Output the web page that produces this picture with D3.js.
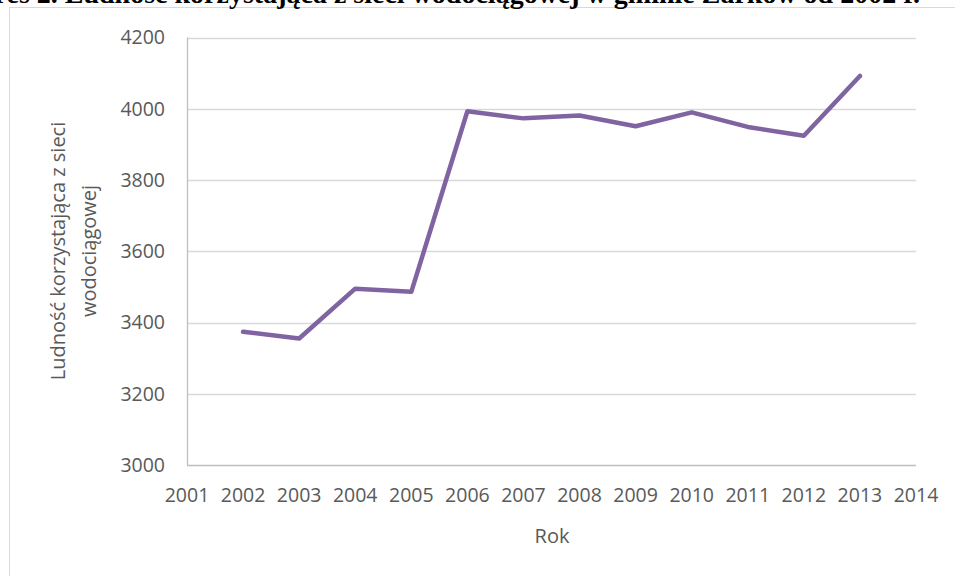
<!DOCTYPE html>
<html>
<head>
<meta charset="utf-8">
<script src="https://cdn.jsdelivr.net/npm/d3@7"></script>
<style>
  body { margin: 0; background: #fff; }
  text { font-family: "Open Sans", sans-serif; fill: #595959; }
</style>
</head>
<body>
<script>
// data
const years = [2002, 2003, 2004, 2005, 2006, 2007, 2008, 2009, 2010, 2011, 2012, 2013];
const population = [3374, 3355, 3495, 3486, 3993, 3973, 3981, 3951, 3990, 3949, 3924, 4092];
const yTicks = [3000, 3200, 3400, 3600, 3800, 4000, 4200];
const xTicks = [2001, 2002, 2003, 2004, 2005, 2006, 2007, 2008, 2009, 2010, 2011, 2012, 2013, 2014];

const width = 955;
const height = 576;
const margin = { top: 37.5, right: 39, bottom: 111, left: 187 };

const svg = d3.select("body").append("svg")
  .attr("width", width)
  .attr("height", height);

// chart frame (runs off the right and bottom)
svg.append("rect")
  .attr("x", 9.5).attr("y", 7.5)
  .attr("width", 960).attr("height", 600)
  .attr("fill", "none")
  .attr("stroke", "#d9d9d9");

// caption above the chart, clipped by the top edge as in the reference
svg.append("text")
  .attr("x", -62).attr("y", 3)
  .style("font-family", "'Liberation Serif', serif")
  .style("font-weight", "bold")
  .style("font-size", "28px")
  .style("fill", "#000")
  .text("Wykres 2. Ludność korzystająca z sieci wodociągowej w gminie Żarków od 2002 r.");

const x = d3.scaleLinear().domain([2001, 2014]).range([margin.left, width - margin.right]);
const y = d3.scaleLinear().domain([3000, 4200]).range([height - margin.bottom, margin.top]);

// gridlines
svg.append("g")
  .selectAll("line")
  .data(yTicks)
  .join("line")
  .attr("x1", x(2001)).attr("x2", x(2014))
  .attr("y1", d => Math.round(y(d)) + 0.5)
  .attr("y2", d => Math.round(y(d)) + 0.5)
  .attr("stroke", d => d === 3000 ? "#bfbfbf" : "#d9d9d9")
  .attr("stroke-width", 1.3);

// left axis line
svg.append("line")
  .attr("x1", x(2001) + 0.5).attr("x2", x(2001) + 0.5)
  .attr("y1", y(4200)).attr("y2", y(3000))
  .attr("stroke", "#bfbfbf")
  .attr("stroke-width", 1.3);

// y tick labels
svg.append("g")
  .selectAll("text")
  .data(yTicks)
  .join("text")
  .attr("x", 165)
  .attr("y", d => y(d))
  .attr("dy", "0.35em")
  .attr("text-anchor", "end")
  .style("font-size", "19.5px")
  .text(d => d);

// x tick labels
svg.append("g")
  .selectAll("text")
  .data(xTicks)
  .join("text")
  .attr("x", d => x(d))
  .attr("y", 502)
  .attr("text-anchor", "middle")
  .style("font-size", "19.5px")
  .text(d => d);

// axis titles
svg.append("text")
  .attr("x", 552).attr("y", 543)
  .attr("text-anchor", "middle")
  .style("font-size", "20px")
  .text("Rok");

const yTitle = svg.append("text")
  .attr("transform", "translate(0,251) rotate(-90)")
  .attr("text-anchor", "middle")
  .style("font-size", "20px");
yTitle.append("tspan").attr("x", 0).attr("y", 65).text("Ludność korzystająca z sieci");
yTitle.append("tspan").attr("x", 0).attr("y", 96).text("wodociągowej");

// the line
const line = d3.line()
  .x((d, i) => x(years[i]))
  .y(d => y(d));

svg.append("path")
  .datum(population)
  .attr("d", line)
  .attr("fill", "none")
  .attr("stroke", "#8064a2")
  .attr("stroke-width", 4.5)
  .attr("stroke-linejoin", "round")
  .attr("stroke-linecap", "round");
</script>
</body>
</html>
